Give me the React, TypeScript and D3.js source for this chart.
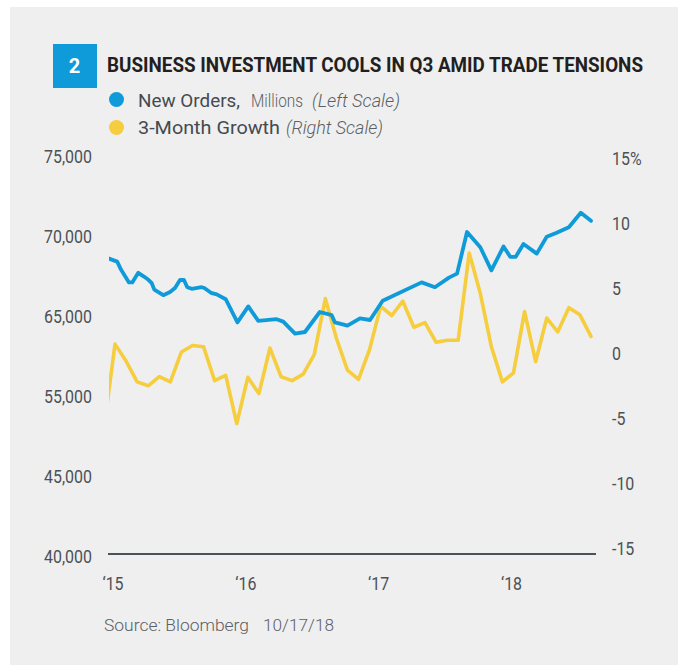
import React from "react";
import * as d3 from "d3";

// ---- data ----
const titleText = "BUSINESS INVESTMENT COOLS IN Q3 AMID TRADE TENSIONS";
const sourceText = "Source: Bloomberg";
const dateText = "10/17/18";

// month index: 0 = Jan 2015
const blueMonthIndex = [-1, 0.2, 0.54, 1.26, 1.56, 2.1, 2.65, 2.95, 3.32, 3.55, 4.36, 4.97, 5.42, 5.87, 6.23, 6.53, 6.93, 7.83, 8.07, 8.67, 9.19, 10.0, 11.06, 12.04, 12.94, 14.6, 15.2, 16.26, 17.16, 18.5, 19.58, 19.87, 21.0, 22.13, 23.04, 24.18, 27.7, 28.9, 30.17, 30.9, 31.8, 33.0, 34.0, 35.1, 35.7, 36.2, 36.9, 38.1, 39.0, 39.9, 41.0, 42.08, 43.0];
const newOrders = [68700, 68400, 67900, 67100, 67100, 67700, 67450, 67300, 67050, 66650, 66300, 66500, 66750, 67250, 67250, 66800, 66700, 66800, 66750, 66450, 66350, 66050, 64600, 65600, 64700, 64800, 64650, 63900, 64000, 65250, 65050, 64600, 64400, 64850, 64750, 65950, 67100, 66800, 67400, 67650, 70250, 69300, 67850, 69350, 68700, 68700, 69500, 68900, 69950, 70200, 70550, 71450, 70950];

const growthStartMonth = -1;
const growth3m = [-5.8, 0.7, -0.6, -2.2, -2.5, -1.8, -2.2, 0.1, 0.6, 0.5, -2.1, -1.7, -5.4, -1.85, -3.1, 0.4, -1.8, -2.1, -1.6, -0.1, 4.2, 1.15, -1.3, -2.0, 0.3, 3.6, 2.9, 4.0, 2.0, 2.35, 0.85, 1.0, 1.0, 7.7, 4.6, 0.5, -2.2, -1.5, 3.2, -0.65, 2.7, 1.65, 3.5, 2.95, 1.3];

const leftTickValues = [75000, 70000, 65000, 60000, 55000, 50000];
const leftTickLabels = ["75,000", "70,000", "65,000", "55,000", "45,000", "40,000"];
const rightTickValues = [15, 10, 5, 0, -5, -10, -15];
const rightTickLabels = ["15%", "10", "5", "0", "-5", "-10", "-15"];
const xTickMonths = [0, 12, 24, 36];
const xTickLabels = ["\u201815", "\u201816", "\u201817", "\u201818"];

// ---- styles ----
const BLUE = "#0f9bd9";
const YELLOW = "#f6cd3e";
const BG = "#efefef";
const AXIS = "#4d5258";
const LABEL = "#4b5157";
const FONT = "Roboto, 'Liberation Sans', Arial, sans-serif";

const x = d3.scaleLinear().domain([0, 43]).range([115, 591]);
const yL = d3.scaleLinear().domain([50000, 75000]).range([556, 156]);
const yR = d3.scaleLinear().domain([-15, 15]).range([548.5, 158]);

function CT(props: any) {
  const { x, y, sx = 0.84, anchor = "start", children, ...rest } = props;
  return (
    <text transform={`translate(${x},${y}) scale(${sx},1)`} textAnchor={anchor} {...rest}>
      {children}
    </text>
  );
}

export default function App() {
  const bluePts: [number, number][] = blueMonthIndex.map((m, i) => [m, newOrders[i]]);
  const yellowPts: [number, number][] = growth3m.map((v, i) => [growthStartMonth + i, v]);
  const blueLine = d3
    .line<[number, number]>()
    .x((d) => x(d[0]))
    .y((d) => yL(d[1]));
  const yellowLine = d3
    .line<[number, number]>()
    .x((d) => x(d[0]))
    .y((d) => yR(d[1]));

  return (
    <svg
      width={678}
      height={666}
      style={{ position: "absolute", left: 0, top: 0 }}
      fontFamily={FONT}
    >
      <rect x={0} y={0} width={678} height={666} fill="#ffffff" />
      <rect x={10} y={7} width={668} height={658} fill={BG} />

      {/* header */}
      <rect x={53} y={44} width={44} height={44} fill={BLUE} />
      <text x={74.5} y={72.5} fill="#ffffff" fontSize={20} fontWeight={700} textAnchor="middle">
        2
      </text>
      <text
        x={107}
        y={72}
        fill="#231f20"
        fontSize={19.5}
        fontWeight={700}
        textLength={536}
        lengthAdjust="spacingAndGlyphs"
      >
        {titleText}
      </text>

      {/* legend */}
      <circle cx={116.5} cy={99.5} r={7.5} fill={BLUE} />
      <circle cx={116.5} cy={127.5} r={7.5} fill={YELLOW} />
      <text x={138} y={106.5} fill="#454a50" fontSize={18.5} fontWeight={400} textLength={102} lengthAdjust="spacingAndGlyphs">
        New Orders,
      </text>
      <text x={251} y={106.5} fill="#5a5f65" fontSize={18.5} fontWeight={300} textLength={52} lengthAdjust="spacingAndGlyphs">
        Millions
      </text>
      <text x={312} y={106.5} fill="#5a5f65" fontSize={18.5} fontWeight={300} fontStyle="italic" textLength={88} lengthAdjust="spacingAndGlyphs">
        (Left Scale)
      </text>
      <text x={138} y={134} fill="#454a50" fontSize={18.5} fontWeight={400} textLength={142} lengthAdjust="spacingAndGlyphs">
        3-Month Growth
      </text>
      <text x={286} y={134} fill="#5a5f65" fontSize={18.5} fontWeight={300} fontStyle="italic" textLength={97} lengthAdjust="spacingAndGlyphs">
        (Right Scale)
      </text>

      {/* left axis labels */}
      {leftTickValues.map((v, i) => (
        <CT key={"l" + i} x={92} y={yL(v) + 6.8} anchor="end" fill={LABEL} fontSize={19}>
          {leftTickLabels[i]}
        </CT>
      ))}
      {/* right axis labels */}
      {rightTickValues.map((v, i) => (
        <CT key={"r" + i} x={612} y={yR(v) + 6.8} anchor="start" fill={LABEL} fontSize={19}>
          {rightTickLabels[i]}
        </CT>
      ))}
      {/* x labels */}
      {xTickMonths.map((m, i) => (
        <CT key={"x" + i} x={x(m) - 2} y={590} anchor="middle" fill={LABEL} fontSize={19}>
          {xTickLabels[i]}
        </CT>
      ))}

      {/* axis baseline */}
      <line x1={108} x2={596} y1={554} y2={554} stroke={AXIS} strokeWidth={2} />

      <defs>
        <clipPath id="plotClip">
          <rect x={109} y={140} width={500} height={420} />
        </clipPath>
      </defs>
      <g clipPath="url(#plotClip)">
        <path d={yellowLine(yellowPts) || ""} fill="none" stroke={YELLOW} strokeWidth={3.6} strokeLinejoin="round" strokeLinecap="round" />
        <path d={blueLine(bluePts) || ""} fill="none" stroke={BLUE} strokeWidth={3.8} strokeLinejoin="round" strokeLinecap="round" />
      </g>

      {/* source */}
      <text x={104} y={631} fill="#5b6066" fontSize={17} fontWeight={300} textLength={145} lengthAdjust="spacingAndGlyphs">
        {sourceText}
      </text>
      <text x={263} y={631} fill="#5b6066" fontSize={17} fontWeight={300} textLength={71} lengthAdjust="spacingAndGlyphs">
        {dateText}
      </text>
    </svg>
  );
}
